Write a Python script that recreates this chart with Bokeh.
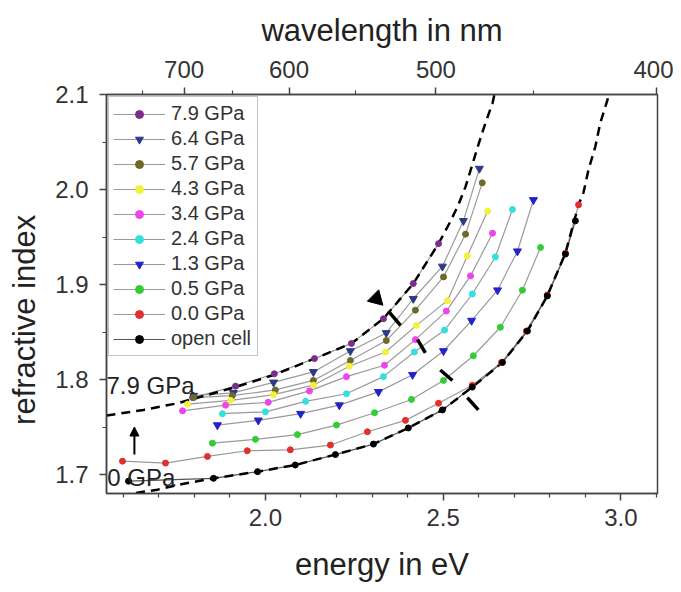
from bokeh.plotting import figure
from bokeh.models import (LinearAxis, FixedTicker, CustomJSTickFormatter, Range1d,
                          Legend, LegendItem, Arrow, NormalHead, Label, PrintfTickFormatter)
from bokeh.embed import file_html
from bokeh.resources import INLINE

FONT = "Liberation Sans"

# ---------------- data (energy in eV, refractive index) ----------------
e_79 = [1.795, 1.916, 2.025, 2.138, 2.242, 2.332, 2.416, 2.487]
n_79 = [1.781, 1.793, 1.806, 1.822, 1.838, 1.864, 1.901, 1.943]

e_64 = [1.798, 1.910, 2.023, 2.135, 2.239, 2.340, 2.416, 2.498, 2.557, 2.602]
n_64 = [1.783, 1.786, 1.797, 1.808, 1.830, 1.849, 1.885, 1.919, 1.967, 2.022]

e_57 = [1.798, 1.907, 2.028, 2.135, 2.239, 2.340, 2.422, 2.501, 2.563, 2.610]
n_57 = [1.781, 1.783, 1.789, 1.799, 1.820, 1.841, 1.873, 1.908, 1.953, 2.007]

e_43 = [1.781, 1.902, 2.023, 2.135, 2.236, 2.338, 2.425, 2.512, 2.568, 2.625]
n_43 = [1.774, 1.778, 1.784, 1.794, 1.814, 1.829, 1.857, 1.883, 1.930, 1.977]

e_34 = [1.767, 1.888, 2.008, 2.124, 2.228, 2.335, 2.422, 2.509, 2.577, 2.639]
n_34 = [1.767, 1.773, 1.776, 1.788, 1.803, 1.815, 1.842, 1.872, 1.909, 1.954]

e_24 = [1.879, 2.000, 2.113, 2.228, 2.332, 2.419, 2.504, 2.582, 2.647, 2.695]
n_24 = [1.764, 1.766, 1.777, 1.785, 1.803, 1.829, 1.852, 1.890, 1.929, 1.979]

e_13 = [1.865, 1.980, 2.099, 2.208, 2.318, 2.414, 2.501, 2.580, 2.653, 2.709, 2.754]
n_13 = [1.752, 1.757, 1.764, 1.773, 1.787, 1.805, 1.830, 1.862, 1.894, 1.935, 1.989]

e_05 = [1.851, 1.972, 2.090, 2.200, 2.307, 2.411, 2.501, 2.585, 2.661, 2.723, 2.774]
n_05 = [1.733, 1.737, 1.742, 1.752, 1.765, 1.779, 1.799, 1.825, 1.855, 1.894, 1.939]

e_00 = [1.598, 1.719, 1.837, 1.949, 2.070, 2.183, 2.287, 2.394, 2.487, 2.582, 2.664,
        2.734, 2.793, 2.844, 2.881]
n_00 = [1.714, 1.712, 1.719, 1.725, 1.726, 1.731, 1.745, 1.757, 1.775, 1.794, 1.818,
        1.851, 1.889, 1.933, 1.984]

e_open = [1.615, 1.854, 1.978, 2.084, 2.197, 2.304, 2.402, 2.498, 2.582, 2.667, 2.737,
          2.793, 2.844, 2.872]
n_open = [1.693, 1.696, 1.703, 1.710, 1.721, 1.732, 1.749, 1.768, 1.792, 1.818, 1.851,
          1.888, 1.932, 1.967]

# dashed fit curves
fit_hi_e = [1.553, 1.657, 1.753, 1.916, 2.025, 2.138, 2.242, 2.332, 2.416, 2.487, 2.520,
            2.543, 2.563, 2.582, 2.599, 2.619, 2.639, 2.650]
fit_hi_n = [1.762, 1.768, 1.775, 1.792, 1.805, 1.822, 1.838, 1.864, 1.901, 1.943, 1.966,
            1.984, 2.003, 2.026, 2.047, 2.070, 2.091, 2.110]
fit_lo_e = [1.553, 1.626, 1.696, 1.753, 1.854, 1.978, 2.084, 2.197, 2.304, 2.402, 2.498,
            2.582, 2.667, 2.737, 2.793, 2.844, 2.881, 2.895, 2.909, 2.928, 2.942, 2.962, 2.972]
fit_lo_n = [1.675, 1.680, 1.684, 1.689, 1.696, 1.703, 1.710, 1.721, 1.732, 1.749, 1.768,
            1.792, 1.818, 1.851, 1.888, 1.933, 1.984, 1.997, 2.021, 2.045, 2.070, 2.094, 2.110]

labels = ["7.9 GPa", "6.4 GPa", "5.7 GPa", "4.3 GPa", "3.4 GPa", "2.4 GPa",
          "1.3 GPa", "0.5 GPa", "0.0 GPa", "open cell"]
colors = ["#7a2e8c", "#2e3a87", "#6e6a25", "#f2f23a", "#ee44ee", "#33e0e0",
          "#2222cc", "#33cc33", "#e03030", "#000000"]
markers = ["circle", "inverted_triangle", "circle", "circle", "circle", "circle",
           "inverted_triangle", "circle", "circle", "circle"]
xs = [e_79, e_64, e_57, e_43, e_34, e_24, e_13, e_05, e_00, e_open]
ys = [n_79, n_64, n_57, n_43, n_34, n_24, n_13, n_05, n_00, n_open]

# axis ticks
x_major = [2.0, 2.5, 3.0]
x_minor = [1.6, 1.7, 1.8, 1.9, 2.1, 2.2, 2.3, 2.4, 2.6, 2.7, 2.8, 2.9, 3.1]
y_major = [1.7, 1.8, 1.9, 2.0, 2.1]
y_minor = [1.75, 1.85, 1.95, 2.05]
wl_major = [700, 600, 500, 400]
wl_minor = [750, 650, 550, 450]
HC = 1239.84

# annotations
mark_x0 = [2.346, 2.428, 2.492, 2.568]
mark_y0 = [1.872, 1.842, 1.810, 1.781]
mark_x1 = [2.380, 2.450, 2.526, 2.599]
mark_y1 = [1.857, 1.828, 1.799, 1.768]
wedge_x = [2.312]
wedge_y = [1.885]
arrow_x = 1.6315
arrow_y0, arrow_y1 = 1.721, 1.750

p = figure(width=673, height=584, x_range=Range1d(1.553, 3.103), y_range=Range1d(1.68, 2.1),
           output_backend="svg", toolbar_location=None,
           min_border_left=106, min_border_right=16, min_border_top=94, min_border_bottom=87)
p.xgrid.visible = False
p.ygrid.visible = False
p.outline_line_color = "#444444"
p.outline_line_width = 1.5
p.background_fill_color = "white"


def style_axis(ax):
    ax.axis_line_color = "#444444"
    ax.axis_line_width = 1.5
    ax.major_tick_line_color = "#444444"
    ax.major_tick_line_width = 1.5
    ax.minor_tick_line_color = "#444444"
    ax.minor_tick_line_width = 1.2
    ax.major_tick_in = 0
    ax.major_tick_out = 7
    ax.minor_tick_in = 0
    ax.minor_tick_out = 4
    ax.major_label_text_font = FONT
    ax.major_label_text_font_size = "24px"
    ax.major_label_text_color = "#333333"
    ax.axis_label_text_font = FONT
    ax.axis_label_text_font_size = "31px"
    ax.axis_label_text_font_style = "normal"
    ax.axis_label_text_color = "#222222"


xa = p.xaxis[0]
xa.ticker = FixedTicker(ticks=x_major, minor_ticks=x_minor)
xa.formatter = PrintfTickFormatter(format="%.1f")
xa.axis_label = "energy in eV"
style_axis(xa)
xa.major_label_standoff = 8
xa.axis_label_standoff = 18

ya = p.yaxis[0]
ya.ticker = FixedTicker(ticks=y_major, minor_ticks=y_minor)
ya.formatter = PrintfTickFormatter(format="%.1f")
ya.axis_label = "refractive index" + "\u00a0" * 6
style_axis(ya)
ya.major_label_standoff = 11
ya.axis_label_standoff = 10

top = LinearAxis(axis_label="wavelength in nm",
                 ticker=FixedTicker(ticks=[HC / w for w in wl_major],
                                    minor_ticks=[HC / w for w in wl_minor]),
                 formatter=CustomJSTickFormatter(code="return Math.round(1239.84 / tick).toString();"))
style_axis(top)
top.major_label_standoff = 10
top.axis_label_standoff = 10
p.add_layout(top, "above")

items = []
for lab, col, mk, x, y in zip(labels, colors, markers, xs, ys):
    lc = "#555555" if lab == "open cell" else "#9a9a9a"
    lr = p.line(x, y, line_color=lc, line_width=1.2)
    items.append((lab, col, mk, x, y, lr))

p.line(fit_hi_e, fit_hi_n, line_color="black", line_width=2.5, line_dash="9 6")
p.line(fit_lo_e, fit_lo_n, line_color="black", line_width=2.5, line_dash="9 6")

legend_items = []
for lab, col, mk, x, y, lr in items:
    sz = 8 if mk == "inverted_triangle" else 6
    sr = p.scatter(x, y, marker=mk, size=sz, fill_color=col, line_color=col)
    legend_items.append(LegendItem(label=lab, renderers=[lr, sr]))

p.segment(mark_x0, mark_y0, mark_x1, mark_y1, line_color="black", line_width=3.5)
p.scatter(wedge_x, wedge_y, marker="triangle", size=16, angle=-2.356,
          fill_color="black", line_color="black")

p.add_layout(Arrow(end=NormalHead(size=9, fill_color="black", line_color="black"),
                   x_start=arrow_x, y_start=arrow_y0, x_end=arrow_x, y_end=arrow_y1,
                   line_width=2, line_color="black"))

p.add_layout(Label(x=1.553, y=1.7938, text="7.9 GPa", text_font=FONT, text_font_size="24px",
                   text_color="#222222", text_baseline="middle", text_align="left"))
p.add_layout(Label(x=1.555, y=1.697, text="0 GPa", text_font=FONT, text_font_size="24px",
                   text_color="#222222", text_baseline="middle", text_align="left"))

legend = Legend(items=legend_items, location="top_left", margin=2, padding=4, spacing=0,
                glyph_width=52, glyph_height=20, label_height=25, label_width=82,
                label_standoff=6, label_text_font=FONT, label_text_font_size="20px",
                label_text_color="#333333", border_line_color="#888888",
                border_line_width=1, background_fill_alpha=1.0)
p.add_layout(legend)

open("out.html", "w").write(file_html(p, INLINE))
